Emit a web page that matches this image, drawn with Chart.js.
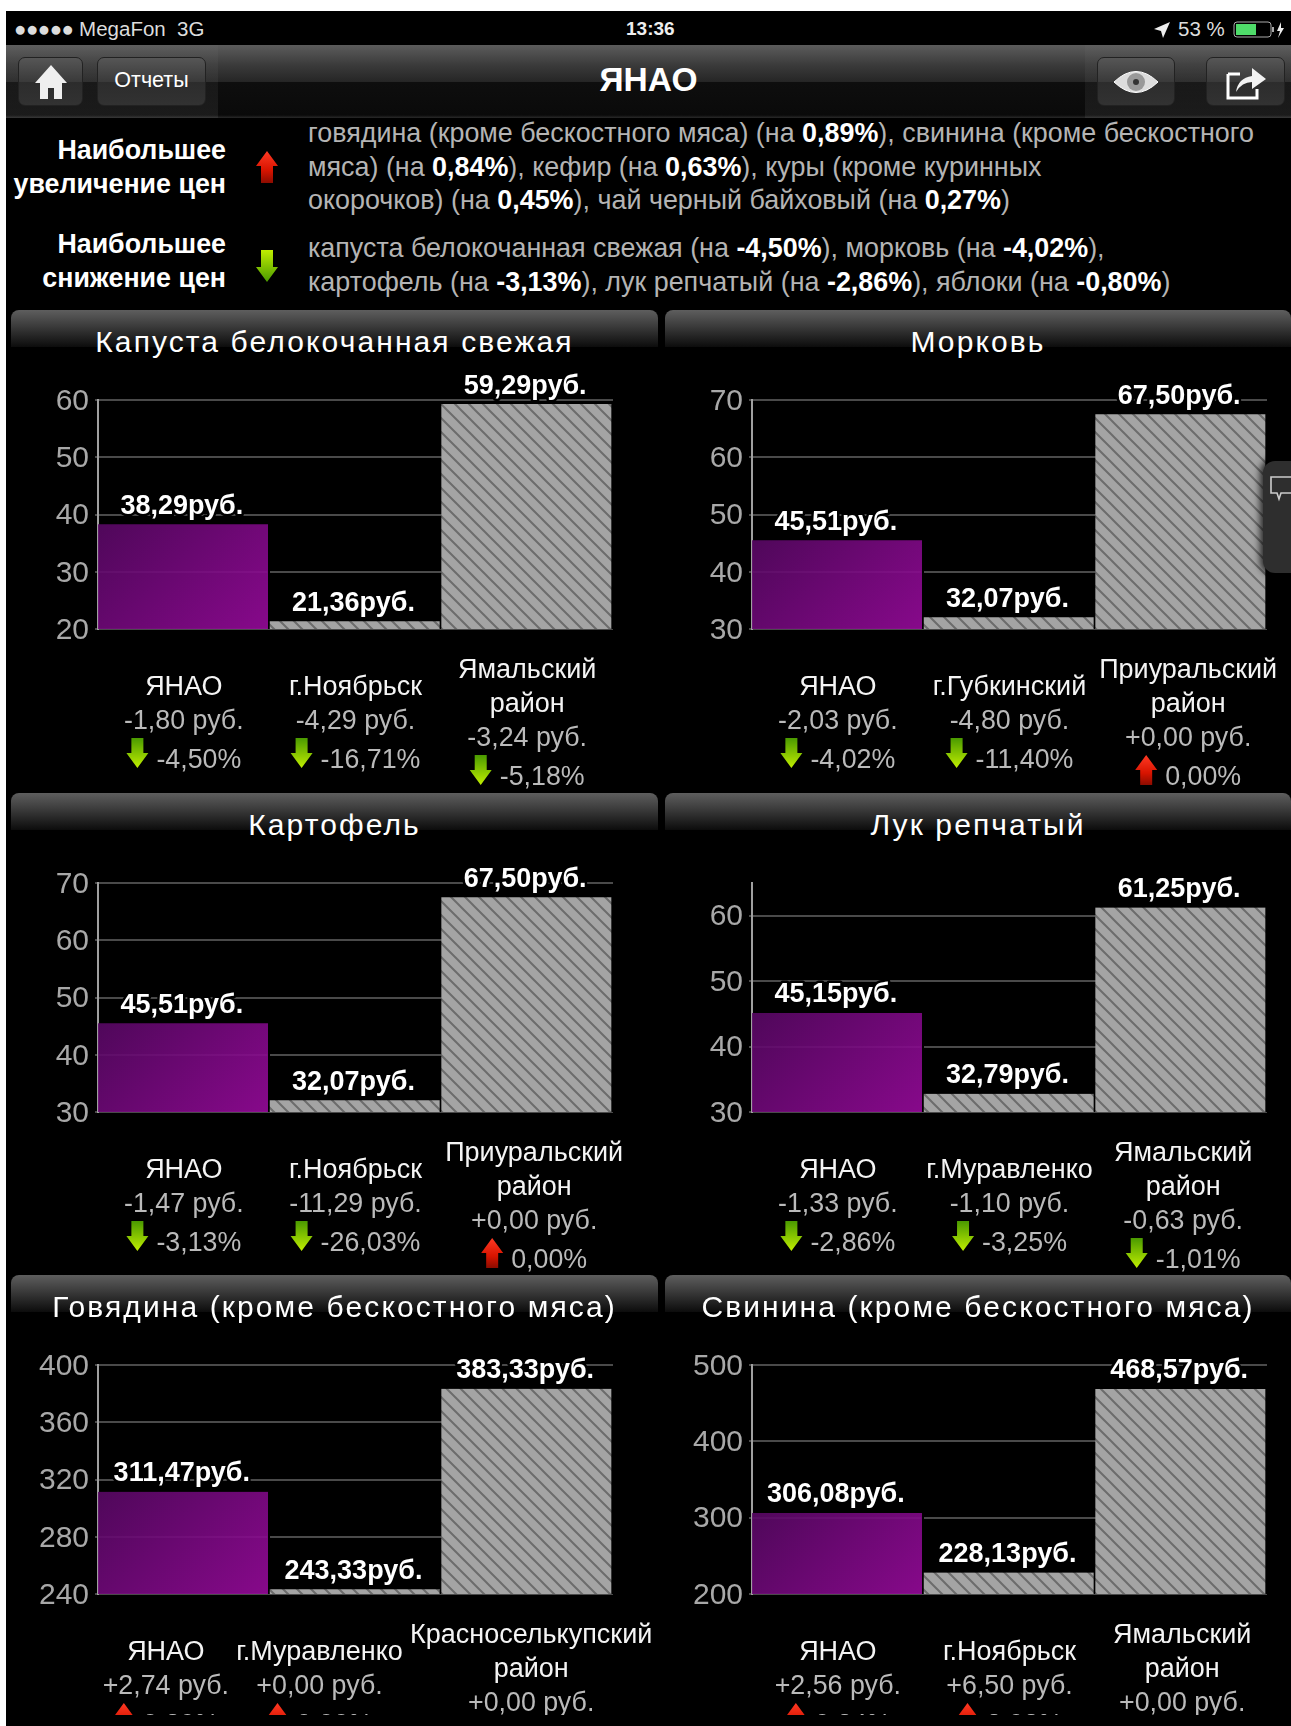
<!DOCTYPE html>
<html lang="ru">
<head>
<meta charset="utf-8">
<title>ЯНАО</title>
<script src="https://cdn.jsdelivr.net/npm/chart.js@4"></script>
<style>
html,body{margin:0;padding:0;background:#fff;}
body{width:1291px;height:1726px;overflow:hidden;position:relative;font-family:"Liberation Sans",Arial,sans-serif;}
#screen{position:absolute;left:6px;top:11px;width:1285px;height:1715px;background:#000;overflow:hidden;}
.abs{position:absolute;white-space:nowrap;}
#nav{position:absolute;left:0;top:34px;width:1285px;height:73px;background:linear-gradient(#5c5c5c 0,#3a3a3a 28%,#262626 50%,#0e0e0e 51%,#0a0a0a 96%,#2a2a2a 100%);}
.btn{position:absolute;top:46px;height:49px;border-radius:7px;border:1px solid #222;box-sizing:border-box;background:linear-gradient(#565656,#3a3a3a 50%,#2c2c2c 51%,#323232);color:#fff;text-align:center;}
.lbl{color:#fff;font-weight:bold;font-size:26.8px;text-align:right;right:1065px;}
.txt{color:#b4b4b4;font-size:26.9px;left:302px;}
.txt b{color:#fff;}
.head{position:absolute;height:37px;border-radius:8px 8px 0 0;background:linear-gradient(#5e5e5e,#3a3a3a 45%,#0c0c0c);}
.htitle{position:absolute;top:15px;left:0;right:0;text-align:center;color:#fff;font-size:30px;line-height:34px;letter-spacing:2.1px;white-space:nowrap;}
.cell{position:absolute;overflow:hidden;}
canvas{display:block;}
#tab{position:absolute;left:1257px;top:450px;width:40px;height:112px;border-radius:12px;background:#2e2e2e;box-shadow:0 0 7px 3px rgba(0,0,0,.75);}
</style>
</head>
<body>
<div id="screen">
  <div class="abs" style="left:8px;top:7px;color:#ddd;font-size:20.5px;line-height:22px;"><span style="letter-spacing:-.5px;">●●●●●</span> MegaFon&nbsp;&nbsp;3G</div>
  <div class="abs" style="left:620px;top:7px;color:#eee;font-size:19px;line-height:22px;font-weight:bold;">13:36</div>
  <div class="abs" style="left:1172px;top:7px;color:#ddd;font-size:20.5px;line-height:22px;">53 %</div>
  <svg class="abs" style="left:1147px;top:10px" width="18" height="18" viewBox="0 0 18 18"><path d="M17 1 L1 8 L8 10 L10 17 Z" fill="#eee"/></svg>
  <svg class="abs" style="left:1227px;top:9px" width="52" height="20" viewBox="0 0 52 20"><rect x="1" y="2" width="37" height="15" rx="3" fill="none" stroke="#aaa"/><rect x="3" y="4" width="20" height="11" fill="#4fdc6a"/><rect x="39" y="7" width="2" height="5" fill="#aaa"/><path d="M48 2 L44 11 L47 11 L45 18 L51 8 L48 8 Z" fill="#eee"/></svg>
  <div id="nav"></div>
  <div class="abs" style="left:0;top:34px;width:212px;height:73px;background:linear-gradient(rgba(255,255,255,.02),rgba(255,255,255,.07));"></div>
  <div class="abs" style="left:1079px;top:34px;width:206px;height:73px;background:linear-gradient(rgba(255,255,255,.02),rgba(255,255,255,.07));"></div>
  <div class="abs" style="left:0;right:0;top:50px;text-align:center;color:#fff;font-weight:bold;font-size:33.5px;line-height:38px;">ЯНАО</div>
  <div class="btn" style="left:12px;width:65px;"><svg width="36" height="38" viewBox="0 0 36 38" style="margin-top:5px"><path d="M18 2 L34 20 L29 20 L29 36 L21 36 L21 25 L15 25 L15 36 L7 36 L7 20 L2 20 Z" fill="#efefef"/></svg></div>
  <div class="btn" style="left:91px;width:109px;font-size:21.5px;line-height:44px;">Отчеты</div>
  <div class="btn" style="left:1091px;width:78px;"><svg width="50" height="42" viewBox="0 0 50 42" style="margin-top:3px"><path d="M3 21 Q25 0 47 21 Q25 42 3 21 Z" fill="#ddd" stroke="#fff"/><circle cx="25" cy="21" r="9" fill="#999"/><circle cx="25" cy="21" r="3" fill="#333"/></svg></div>
  <div class="btn" style="left:1200px;width:79px;"><svg width="44" height="40" viewBox="0 0 44 40" style="margin-top:4px"><path d="M4 12 L16 12 M4 12 L4 36 L33 36 L33 27" fill="none" stroke="#fff" stroke-width="3"/><path d="M12 30 Q14 16 28 14 L28 6 L42 17 L28 27 L28 20 Q18 20 12 30 Z" fill="#f2f2f2"/></svg></div>

  <div class="abs lbl" style="top:123px;line-height:33.5px;">Наибольшее<br>увеличение цен</div>
  <svg class="abs" style="left:250px;top:140px" width="22" height="32" viewBox="0 0 22 32"><defs><linearGradient id="ru" x1="0" x2="0" y1="0" y2="1"><stop offset="0" stop-color="#ff3a24"/><stop offset=".6" stop-color="#d81400"/><stop offset="1" stop-color="#8c0c00"/></linearGradient></defs><path d="M11 0 L22 15 L17 15 L17 32 L5 32 L5 15 L0 15 Z" fill="url(#ru)"/></svg>
  <div class="abs txt" style="top:106px;line-height:33.7px;">говядина (кроме бескостного мяса) (на <b>0,89%</b>), свинина (кроме бескостного<br>мяса) (на <b>0,84%</b>), кефир (на <b>0,63%</b>), куры (кроме куринных<br>окорочков) (на <b>0,45%</b>), чай черный байховый (на <b>0,27%</b>)</div>
  <div class="abs lbl" style="top:217px;line-height:33.5px;">Наибольшее<br>снижение цен</div>
  <svg class="abs" style="left:250px;top:239px" width="22" height="32" viewBox="0 0 22 32"><defs><linearGradient id="gd" x1="0" x2="0" y1="0" y2="1"><stop offset="0" stop-color="#c0ee00"/><stop offset="1" stop-color="#4a9a00"/></linearGradient></defs><path d="M5 0 L17 0 L17 17 L22 17 L11 32 L0 17 L5 17 Z" fill="url(#gd)"/></svg>
  <div class="abs txt" style="top:220px;line-height:34px;">капуста белокочанная свежая (на <b>-4,50%</b>), морковь (на <b>-4,02%</b>),<br>картофель (на <b>-3,13%</b>), лук репчатый (на <b>-2,86%</b>), яблоки (на <b>-0,80%</b>)</div>

  <div id="charts"></div>
  <div id="tab"><svg width="28" height="28" viewBox="0 0 28 28" style="position:absolute;left:6px;top:14px"><path d="M2 2 L26 2 L26 18 L12 18 L10 24 L8 18 L2 18 Z" fill="none" stroke="#ccc" stroke-width="1.6"/></svg></div>
</div>

<script>
// значения с картинки
const titles = ['Капуста белокочанная свежая', 'Морковь', 'Картофель', 'Лук репчатый', 'Говядина (кроме бескостного мяса)', 'Свинина (кроме бескостного мяса)'];
const places = [
  ['ЯНАО', 'г.Ноябрьск', ['Ямальский', 'район']],
  ['ЯНАО', 'г.Губкинский', ['Приуральский', 'район']],
  ['ЯНАО', 'г.Ноябрьск', ['Приуральский', 'район']],
  ['ЯНАО', 'г.Муравленко', ['Ямальский', 'район']],
  ['ЯНАО', 'г.Муравленко', ['Красноселькупский', 'район']],
  ['ЯНАО', 'г.Ноябрьск', ['Ямальский', 'район']]
];
const prices = [
  [38.29, 21.36, 59.29],
  [45.51, 32.07, 67.50],
  [45.51, 32.07, 67.50],
  [45.15, 32.79, 61.25],
  [311.47, 243.33, 383.33],
  [306.08, 228.13, 468.57]
];
const rubChange = [
  ['-1,80', '-4,29', '-3,24'],
  ['-2,03', '-4,80', '+0,00'],
  ['-1,47', '-11,29', '+0,00'],
  ['-1,33', '-1,10', '-0,63'],
  ['+2,74', '+0,00', '+0,00'],
  ['+2,56', '+6,50', '+0,00']
];
const pctChange = [
  ['-4,50%', '-16,71%', '-5,18%'],
  ['-4,02%', '-11,40%', '0,00%'],
  ['-3,13%', '-26,03%', '0,00%'],
  ['-2,86%', '-3,25%', '-1,01%'],
  ['0,89%', '0,00%', '0,00%'],
  ['0,84%', '2,93%', '0,00%']
];
const yMin = [20, 30, 30, 30, 240, 200];
const yMax = [60, 70, 70, 65, 400, 500];
const yStep = [10, 10, 10, 10, 40, 100];

// раскладка панелей
const rowTop = [299, 782, 1264];
const colLeft = [5, 659];
const colWidth = [647, 626];
const leftGap = [87, 87];
const rightGap = [45, 24];
const colShift = [[0, 0, 0], [0, 0, 7], [0, 0, 7], [0, 0, 2], [-18, -36, 4], [0, 0, 1]];

const hatch = (() => {
  const c = document.createElement('canvas');
  c.width = c.height = 14;
  const g = c.getContext('2d');
  g.fillStyle = '#a4a4a4';
  g.fillRect(0, 0, 14, 14);
  g.strokeStyle = '#6c6c6c';
  g.lineWidth = 2;
  g.beginPath();
  g.moveTo(-2, -2); g.lineTo(16, 16);
  g.moveTo(-2, 12); g.lineTo(2, 16);
  g.moveTo(12, -2); g.lineTo(16, 2);
  g.stroke();
  return g.createPattern(c, 'repeat');
})();

function barFill(ctx) {
  if (ctx.dataIndex > 0) return hatch;
  const chart = ctx.chart;
  if (!chart.chartArea) return '#6a0a72';
  const x = chart.scales.x, y = chart.scales.y;
  const top = y.getPixelForValue(ctx.raw);
  const span = ((x.right - x.left) / 3 + (y.bottom - top)) / 2;
  const g = chart.ctx.createLinearGradient(x.left, top, x.left + span, top + span);
  g.addColorStop(0, 'rgba(88,8,100,.9)');
  g.addColorStop(1, 'rgba(150,10,154,.9)');
  return g;
}

function arrow(c, cx, cy, up) {
  c.save();
  c.translate(cx, cy);
  const g = c.createLinearGradient(0, -15, 0, 15);
  if (up) {
    g.addColorStop(0, '#ff3a24'); g.addColorStop(.6, '#d81400'); g.addColorStop(1, '#8c0c00');
  } else {
    g.addColorStop(0, '#c0ee00'); g.addColorStop(1, '#4a9a00');
  }
  if (!up) c.scale(1, -1);
  c.fillStyle = g;
  c.beginPath();
  c.moveTo(0, -15); c.lineTo(11, 0); c.lineTo(6, 0); c.lineTo(6, 15);
  c.lineTo(-6, 15); c.lineTo(-6, 0); c.lineTo(-11, 0);
  c.closePath();
  c.fill();
  c.restore();
}

// подписи над столбцами и строки изменений под осью
const cellText = {
  id: 'cellText',
  beforeDraw(chart, args, opts) {
    chart.scales.x.getLabelItems().forEach((item, i) => {
      if (!item.moved) { item.options.translation[0] += opts.shift[i]; item.moved = true; }
    });
    chart.scales.y.getLabelItems().forEach(item => {
      if (!item.moved) { item.options.translation[1] += 1.5; item.moved = true; }
    });
  },
  afterDraw(chart, args, opts) {
    const c = chart.ctx, base = chart.scales.y.bottom;
    c.save();
    c.textAlign = 'center';
    c.textBaseline = 'middle';
    chart.getDatasetMeta(0).data.forEach((bar, i) => {
      c.font = 'bold 27px "Liberation Sans"';
      const t = opts.values[i].toFixed(2).replace('.', ',') + 'руб.';
      c.lineJoin = 'round';
      c.lineWidth = 5;
      c.strokeStyle = '#000';
      c.strokeText(t, bar.x - 2, bar.y - 18);
      c.fillStyle = '#fff';
      c.fillText(t, bar.x - 2, bar.y - 18);

      const cx = bar.x + opts.shift[i];
      const extra = Array.isArray(opts.names[i]) ? 17 : 0;
      c.font = '26.8px "Liberation Sans"';
      c.fillStyle = '#bababa';
      c.fillText(opts.rub[i] + ' руб.', cx, base + 93 + extra);
      const p = opts.pct[i];
      const w = c.measureText(p).width;
      c.textAlign = 'left';
      const left = cx - (w + 30) / 2;
      arrow(c, left + 11, base + 124 + extra, p[0] !== '-');
      c.fillText(p, left + 30, base + 132 + extra);
      c.textAlign = 'center';
    });
    c.restore();
  }
};

const holder = document.getElementById('charts');
titles.forEach((title, n) => {
  const col = n % 2, row = Math.floor(n / 2);
  const w = colWidth[col], h = 483;
  const cell = document.createElement('div');
  cell.className = 'cell';
  cell.style.cssText = `left:${colLeft[col]}px;top:${rowTop[row]}px;width:${w}px;height:${row === 2 ? 1704 - rowTop[row] : h}px;`;
  const head = document.createElement('div');
  head.className = 'head';
  head.style.cssText = `left:0;top:0;width:${w}px;`;
  const ht = document.createElement('div');
  ht.className = 'htitle';
  ht.textContent = title;
  head.appendChild(ht);
  cell.appendChild(head);
  const cv = document.createElement('canvas');
  cv.width = w; cv.height = h;
  cv.style.cssText = 'position:absolute;left:0;top:0;';
  cell.appendChild(cv);
  holder.appendChild(cell);

  new Chart(cv, {
    type: 'bar',
    data: {
      labels: places[n],
      datasets: [{
        data: prices[n],
        backgroundColor: barFill,
        borderColor: '#000',
        borderWidth: { right: 2 },
        borderSkipped: false,
        categoryPercentage: 1,
        barPercentage: 1
      }]
    },
    plugins: [cellText],
    options: {
      responsive: false,
      animation: false,
      layout: { padding: { top: 90, right: rightGap[col], left: 0, bottom: 0 } },
      plugins: {
        legend: { display: false },
        tooltip: { enabled: false },
        title: { display: false },
        cellText: { values: prices[n], names: places[n], rub: rubChange[n], pct: pctChange[n], shift: colShift[n] }
      },
      scales: {
        x: {
          afterFit: s => { s.height = 164; s.paddingLeft = 0; s.paddingRight = 0; },
          grid: { display: false },
          border: { display: false },
          ticks: {
            autoSkip: false, maxRotation: 0, minRotation: 0,
            crossAlign: 'center',
            padding: 34,
            color: '#f4f4f4',
            font: { family: '"Liberation Sans"', size: 27, lineHeight: 1.26 }
          }
        },
        y: {
          min: yMin[n],
          max: yMax[n],
          afterFit: s => { s.width = leftGap[col]; },
          grid: { color: '#4a4a4a', lineWidth: 2, tickLength: 3 },
          border: { color: '#a0a0a0', width: 2 },
          ticks: {
            stepSize: yStep[n],
            includeBounds: false,
            padding: 6,
            color: '#a8a8a8',
            font: { family: '"Liberation Sans"', size: 30 }
          }
        }
      }
    }
  });
});
</script>
</body>
</html>
